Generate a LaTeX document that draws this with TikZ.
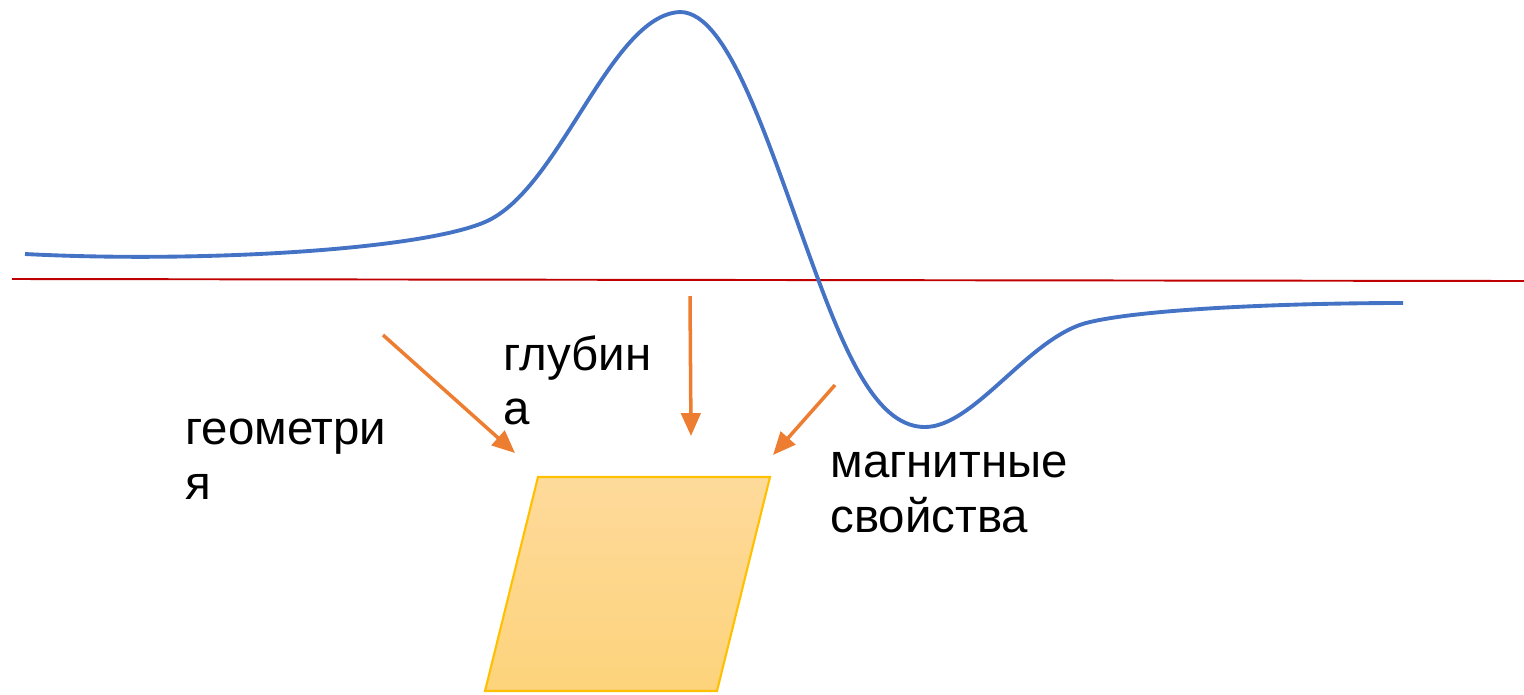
\documentclass[tikz,border=0pt]{standalone}
\usepackage{fontspec}
\setmainfont{Liberation Sans}
\usetikzlibrary{arrows.meta}
\definecolor{curveblue}{HTML}{4472C4}
\definecolor{axisred}{HTML}{C00000}
\definecolor{arroworange}{HTML}{ED7D31}
\definecolor{boxedge}{HTML}{FFC000}
\definecolor{boxtop}{HTML}{FEDA9B}
\definecolor{boxbot}{HTML}{FDD37B}
\begin{document}
\begin{tikzpicture}[x=0.02cm,y=-0.02cm,
  lbl/.style={anchor=north west,inner sep=0pt,align=left,font=\fontsize{27}{31.2}\selectfont},
  ptr/.style={draw=arroworange,line width=2pt,-{Triangle[length=13pt,width=11pt]}},
  curve/.style={draw=curveblue,line width=2.2pt},
  axis/.style={draw=axisred,line width=1.1pt}]
\useasboundingbox (0,0) rectangle (1524,694);
% body
\shade[top color=boxtop,bottom color=boxbot,draw=boxedge,line width=1.2pt]
  (538,477) -- (770,477) -- (717,691) -- (485,691) -- cycle;
% axis
\coordinate (axL) at (12,279);
\coordinate (axR) at (1524,281);
\draw[axis] (axL) -- (axR);
% anomaly curve
\draw[curve] (25,254) .. controls (200,263) and (420,250) .. (485,222)
  .. controls (560,190) and (610,15) .. (680,12)
  .. controls (730,12) and (770,150) .. (818,279)
  .. controls (850,365) and (880,427) .. (925,427)
  .. controls (975,427) and (1030,335) .. (1090,322)
  .. controls (1150,308) and (1300,303) .. (1403,303);
% labels
\node[lbl] (geom) at (185,419) {геометри\\я};
\node[lbl] (depth) at (503,335) {глубин\\а};
\node[lbl] (magn) at (830,452) {магнитные\\свойства};
% arrows
\coordinate (a1s) at (383,335); \coordinate (a1e) at (515,453);
\coordinate (a2s) at (690,296); \coordinate (a2e) at (691,436);
\coordinate (a3s) at (835,385); \coordinate (a3e) at (773,455);
\draw[ptr] (a1s) -- (a1e);
\draw[ptr] (a2s) -- (a2e);
\draw[ptr] (a3s) -- (a3e);
\end{tikzpicture}
\end{document}
